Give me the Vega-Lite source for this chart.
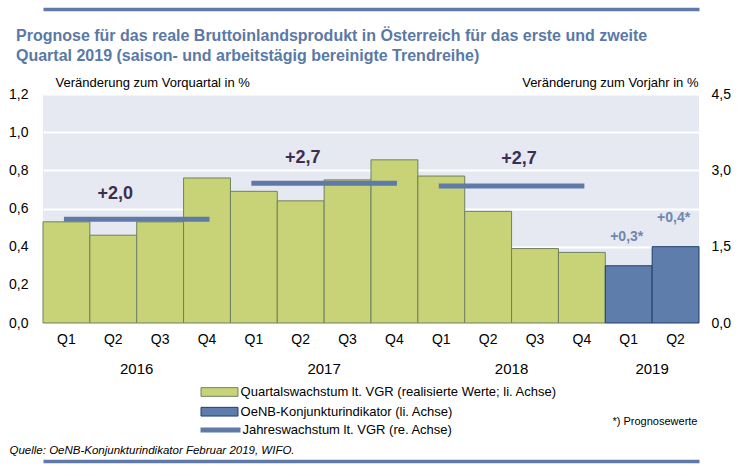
{
  "$schema": "https://vega.github.io/schema/vega-lite/v6.json",
  "width": 656,
  "height": 229,
  "autosize": {"type": "none"},
  "padding": {"left": 43, "top": 94, "right": 49, "bottom": 149},
  "background": "white",
  "config": {
    "font": "Liberation Sans",
    "view": {"fill": "#e6e9f1", "stroke": null},
    "axis": {"labelFont": "Liberation Sans", "titleFont": "Liberation Sans", "labelColor": "#000000", "titleColor": "#000000"}
  },
  "title": {
    "text": ["Prognose für das reale Bruttoinlandsprodukt in Österreich für das erste und zweite", "Quartal 2019 (saison- und arbeitstägig bereinigte Trendreihe)"],
    "anchor": "start",
    "frame": "group",
    "dx": -27,
    "fontSize": 16,
    "fontWeight": "bold",
    "color": "#5b79a6",
    "lineHeight": 20,
    "offset": -55
  },
  "datasets": {
    "quarters": [
      {"qid": "2016-Q1", "q": "Q1", "value": 0.53, "type": "Quartalswachstum lt. VGR (realisierte Werte; li. Achse)", "label": ""},
      {"qid": "2016-Q2", "q": "Q2", "value": 0.46, "type": "Quartalswachstum lt. VGR (realisierte Werte; li. Achse)", "label": ""},
      {"qid": "2016-Q3", "q": "Q3", "value": 0.53, "type": "Quartalswachstum lt. VGR (realisierte Werte; li. Achse)", "label": ""},
      {"qid": "2016-Q4", "q": "Q4", "value": 0.76, "type": "Quartalswachstum lt. VGR (realisierte Werte; li. Achse)", "label": ""},
      {"qid": "2017-Q1", "q": "Q1", "value": 0.69, "type": "Quartalswachstum lt. VGR (realisierte Werte; li. Achse)", "label": ""},
      {"qid": "2017-Q2", "q": "Q2", "value": 0.64, "type": "Quartalswachstum lt. VGR (realisierte Werte; li. Achse)", "label": ""},
      {"qid": "2017-Q3", "q": "Q3", "value": 0.75, "type": "Quartalswachstum lt. VGR (realisierte Werte; li. Achse)", "label": ""},
      {"qid": "2017-Q4", "q": "Q4", "value": 0.855, "type": "Quartalswachstum lt. VGR (realisierte Werte; li. Achse)", "label": ""},
      {"qid": "2018-Q1", "q": "Q1", "value": 0.77, "type": "Quartalswachstum lt. VGR (realisierte Werte; li. Achse)", "label": ""},
      {"qid": "2018-Q2", "q": "Q2", "value": 0.585, "type": "Quartalswachstum lt. VGR (realisierte Werte; li. Achse)", "label": ""},
      {"qid": "2018-Q3", "q": "Q3", "value": 0.39, "type": "Quartalswachstum lt. VGR (realisierte Werte; li. Achse)", "label": ""},
      {"qid": "2018-Q4", "q": "Q4", "value": 0.37, "type": "Quartalswachstum lt. VGR (realisierte Werte; li. Achse)", "label": ""},
      {"qid": "2019-Q1", "q": "Q1", "value": 0.30, "type": "OeNB-Konjunkturindikator (li. Achse)", "label": "+0,3*"},
      {"qid": "2019-Q2", "q": "Q2", "value": 0.40, "type": "OeNB-Konjunkturindikator (li. Achse)", "label": "+0,4*"}
    ],
    "annual": [
      {"year": "2016", "from": "2016-Q1", "to": "2016-Q4", "growth": 2.04, "label": "+2,0", "anchor": "2016-Q2", "series": "Jahreswachstum lt. VGR (re. Achse)"},
      {"year": "2017", "from": "2017-Q1", "to": "2017-Q4", "growth": 2.745, "label": "+2,7", "anchor": "2017-Q2", "series": "Jahreswachstum lt. VGR (re. Achse)"},
      {"year": "2018", "from": "2018-Q1", "to": "2018-Q4", "growth": 2.69, "label": "+2,7", "anchor": "2018-Q3", "series": "Jahreswachstum lt. VGR (re. Achse)"}
    ]
  },
  "layer": [
    {
      "data": {"name": "quarters"},
      "mark": {"type": "bar", "strokeWidth": 1},
      "encoding": {
        "x": {
          "field": "qid", "type": "ordinal", "sort": null,
          "scale": {"domain": ["2016-Q1","2016-Q2","2016-Q3","2016-Q4","2017-Q1","2017-Q2","2017-Q3","2017-Q4","2018-Q1","2018-Q2","2018-Q3","2018-Q4","2019-Q1","2019-Q2"], "paddingInner": 0, "paddingOuter": 0},
          "axis": {
            "orient": "bottom",
            "title": "Quelle: OeNB-Konjunkturindikator Februar 2019, WIFO.",
            "titleFontSize": 11.5, "titleFontStyle": "italic", "titleFontWeight": "normal",
            "titleAnchor": "start", "titleAlign": "left", "titleBaseline": "middle",
            "titleX": -34, "titleY": 127,
            "labelExpr": "slice(datum.value, 5)", "labelAngle": 0,
            "labelFontSize": 14, "labelPadding": 9,
            "ticks": false, "domain": false, "grid": false
          }
        },
        "y": {
          "field": "value", "type": "quantitative",
          "scale": {"domain": [0, 1.2], "nice": false, "zero": true},
          "axis": {
            "title": "Veränderung zum Vorquartal in %",
            "titleAngle": 0, "titleAlign": "left", "titleBaseline": "middle",
            "titleX": 12, "titleY": -12, "titleFontSize": 13, "titleFontWeight": "normal",
            "values": [0, 0.2, 0.4, 0.6, 0.8, 1.0, 1.2],
            "tickCount": 7,
            "labelExpr": "replace(format(datum.value, '.1f'), '.', ',')",
            "labelFontSize": 14, "labelPadding": 15, "labelOverlap": false,
            "ticks": false, "domain": false,
            "grid": true, "gridColor": "#ffffff", "gridWidth": 2
          }
        },
        "fill": {
          "field": "type", "type": "nominal",
          "scale": {"domain": ["Quartalswachstum lt. VGR (realisierte Werte; li. Achse)", "OeNB-Konjunkturindikator (li. Achse)"], "range": ["#c8d378", "#5f7dab"]},
          "legend": {
            "orient": "none", "legendX": 170, "legendY": 291.5, "title": null,
            "symbolType": "M-4.25,-1H4.25V1H-4.25Z", "symbolSize": 75.7,
            "symbolStrokeWidth": 1, "symbolOpacity": 1, "labelFontSize": 13, "labelOffset": 14.6,
            "rowPadding": 5.7, "padding": 0, "labelLimit": 500,
            "encode": {"symbols": {"update": {
              "stroke": {"signal": "datum.value === 'OeNB-Konjunkturindikator (li. Achse)' ? '#1f3f6e' : '#6f8060'"},
              "fill": {"signal": "datum.value === 'OeNB-Konjunkturindikator (li. Achse)' ? '#5f7dab' : '#c8d378'"}
            }}}
          }
        },
        "stroke": {
          "field": "type", "type": "nominal",
          "scale": {"domain": ["Quartalswachstum lt. VGR (realisierte Werte; li. Achse)", "OeNB-Konjunkturindikator (li. Achse)"], "range": ["#6f8060", "#1f3f6e"]},
          "legend": null
        }
      }
    },
    {
      "data": {"name": "annual"},
      "mark": {"type": "rule", "strokeWidth": 5, "strokeCap": "square"},
      "encoding": {
        "x": {
          "field": "from", "type": "ordinal", "sort": null,
          "scale": {"domain": ["2016-Q1","2016-Q2","2016-Q3","2016-Q4","2017-Q1","2017-Q2","2017-Q3","2017-Q4","2018-Q1","2018-Q2","2018-Q3","2018-Q4","2019-Q1","2019-Q2"]},
          "axis": {
            "orient": "bottom",
            "title": "*) Prognosewerte",
            "titleFontSize": 11, "titleFontWeight": "normal",
            "titleAlign": "right", "titleBaseline": "middle", "titleAnchor": "end",
            "titleX": 654, "titleY": 98,
            "values": ["2016-Q2", "2017-Q2", "2018-Q2", "2019-Q1"],
            "labelExpr": "slice(datum.value, 0, 4)", "labelAngle": 0,
            "labelOffset": 23.4, "labelFontSize": 15, "labelPadding": 38,
            "ticks": false, "domain": false, "grid": false
          }
        },
        "x2": {"field": "to"},
        "y": {
          "field": "growth", "type": "quantitative",
          "scale": {"domain": [0, 4.5], "nice": false, "zero": true},
          "axis": {
            "orient": "right",
            "title": "Veränderung zum Vorjahr in %",
            "titleAngle": 0, "titleAlign": "right", "titleBaseline": "middle",
            "titleX": -1, "titleY": -12, "titleFontSize": 13, "titleFontWeight": "normal",
            "values": [0, 1.5, 3.0, 4.5],
            "labelExpr": "replace(format(datum.value, '.1f'), '.', ',')",
            "labelFontSize": 14, "labelPadding": 12, "labelOverlap": false,
            "ticks": false, "domain": false, "grid": false
          }
        },
        "stroke": {
          "field": "series", "type": "nominal",
          "scale": {"domain": ["Jahreswachstum lt. VGR (re. Achse)"], "range": ["#5f7aa8"]},
          "legend": {
            "orient": "none", "legendX": 170, "legendY": 328.5, "title": null,
            "symbolType": "M-4.3,0H4.3", "symbolSize": 86.5,
            "symbolStrokeWidth": 5, "labelFontSize": 13, "labelOffset": 14.4,
            "padding": 0, "labelLimit": 500
          }
        }
      }
    },
    {
      "data": {"name": "quarters"},
      "transform": [{"filter": "datum.label != ''"}],
      "mark": {"type": "text", "fontSize": 14, "fontWeight": "bold", "color": "#6e87b0", "dy": -29, "dx": -2, "baseline": "middle"},
      "encoding": {
        "x": {
          "field": "qid", "type": "ordinal", "sort": null,
          "scale": {"domain": ["2016-Q1","2016-Q2","2016-Q3","2016-Q4","2017-Q1","2017-Q2","2017-Q3","2017-Q4","2018-Q1","2018-Q2","2018-Q3","2018-Q4","2019-Q1","2019-Q2"]},
          "axis": {
            "orient": "top", "offset": 85, "title": null, "labels": false, "ticks": false, "grid": false,
            "domain": true, "domainColor": "#5f7aa8", "domainWidth": 3.5
          }
        },
        "y": {"field": "value", "type": "quantitative", "scale": {"domain": [0, 1.2], "nice": false}, "axis": null},
        "text": {"field": "label"}
      }
    },
    {
      "data": {"name": "annual"},
      "transform": [{"filter": "datum.year != '2018'"}],
      "mark": {"type": "text", "fontSize": 18, "fontWeight": "bold", "color": "#3b2e50", "baseline": "middle", "dx": 2, "dy": -25},
      "encoding": {
        "x": {
          "field": "anchor", "type": "ordinal", "sort": null,
          "scale": {"domain": ["2016-Q1","2016-Q2","2016-Q3","2016-Q4","2017-Q1","2017-Q2","2017-Q3","2017-Q4","2018-Q1","2018-Q2","2018-Q3","2018-Q4","2019-Q1","2019-Q2"]},
          "axis": {
            "orient": "bottom", "offset": 138, "title": null, "labels": false, "ticks": false, "grid": false,
            "domain": true, "domainColor": "#5f7aa8", "domainWidth": 3.5
          }
        },
        "y": {"field": "growth", "type": "quantitative", "scale": {"domain": [0, 4.5], "nice": false}, "axis": null},
        "text": {"field": "label"}
      }
    },
    {
      "data": {"name": "annual"},
      "transform": [{"filter": "datum.year == '2018'"}],
      "mark": {"type": "text", "fontSize": 18, "fontWeight": "bold", "color": "#3b2e50", "baseline": "middle", "dx": -16, "dy": -27.5},
      "encoding": {
        "x": {
          "field": "anchor", "type": "ordinal", "sort": null,
          "scale": {"domain": ["2016-Q1","2016-Q2","2016-Q3","2016-Q4","2017-Q1","2017-Q2","2017-Q3","2017-Q4","2018-Q1","2018-Q2","2018-Q3","2018-Q4","2019-Q1","2019-Q2"]},
          "axis": null
        },
        "y": {"field": "growth", "type": "quantitative", "scale": {"domain": [0, 4.5], "nice": false}, "axis": null},
        "text": {"field": "label"}
      }
    }
  ],
  "resolve": {"scale": {"y": "independent", "stroke": "independent"}, "axis": {"x": "independent"}}
}
